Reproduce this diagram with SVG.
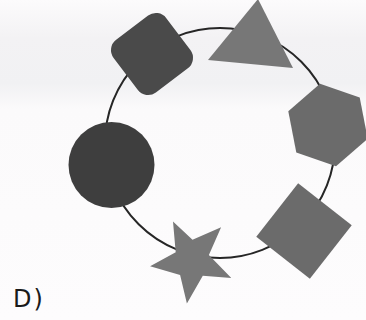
<svg xmlns="http://www.w3.org/2000/svg" width="366" height="320" viewBox="0 0 366 320">
  <defs>
    <linearGradient id="bg" x1="0" y1="0" x2="0" y2="1">
      <stop offset="0" stop-color="#fcfbfc"/>
      <stop offset="0.12" stop-color="#f3f2f4"/>
      <stop offset="0.26" stop-color="#f1f1f3"/>
      <stop offset="0.34" stop-color="#fbfafb"/>
      <stop offset="1" stop-color="#fdfcfd"/>
    </linearGradient>
  </defs>
  <style>
    .ring { fill: none; stroke: #262626; stroke-width: 2; }
    .dark { fill: #4a4a4a; }
    .darker { fill: #3e3e3e; }
    .mid { fill: #6b6b6b; }
    .light { fill: #777777; }
    .label { font-family: "DejaVu Sans", "Liberation Sans", sans-serif; font-size: 24px; letter-spacing: 2px; fill: #1a1a1a; }
  </style>
  <rect x="0" y="0" width="366" height="320" fill="url(#bg)"/>
  <g id="connectors">
    <circle class="ring" cx="220" cy="143" r="115"/>
  </g>
  <g id="rounded-square">
    <rect class="dark" x="-33" y="-33" width="66" height="66" rx="13" transform="translate(152,54) rotate(53)"/>
  </g>
  <g id="triangle">
    <polygon class="light" points="258,-1 208,60 293,68"/>
  </g>
  <g id="hexagon">
    <polygon class="mid" points="367.7,138.7 336.0,166.2 296.3,152.6 288.3,111.3 320.0,83.8 359.7,97.4"/>
  </g>
  <g id="diamond">
    <rect class="mid" x="-34" y="-34" width="68" height="68" transform="translate(304,231) rotate(38)"/>
  </g>
  <g id="star">
    <polygon class="light" points="231.3,277.9 202.8,275.8 186.9,303.4 180.1,275.1 150.1,266.3 175.7,252.2 173.0,221.6 192.5,239.8 221.1,227.2 208.9,255.0"/>
  </g>
  <g id="circle">
    <circle class="darker" cx="111.5" cy="165" r="43"/>
  </g>
  <g id="label">
    <text class="label" x="13" y="307">D)</text>
  </g>
</svg>
